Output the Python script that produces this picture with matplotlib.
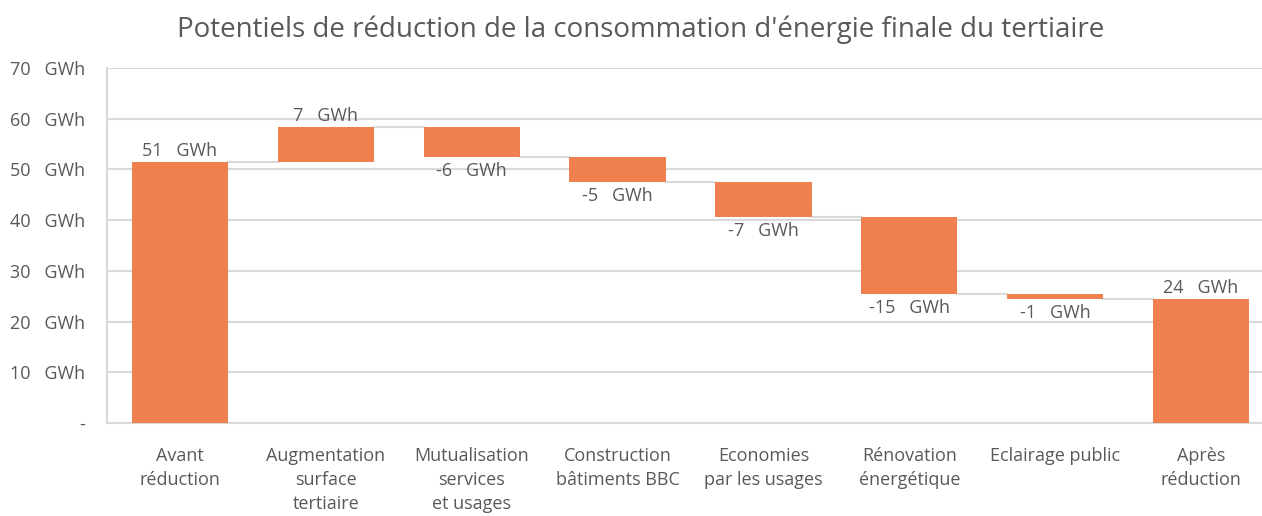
import matplotlib.pyplot as plt
import numpy as np

plt.rcParams['font.family'] = ['Open Sans', 'DejaVu Sans']

categories = ["Avant\nréduction", "Augmentation\nsurface\ntertiaire",
              "Mutualisation\nservices\net usages", "Construction\nbâtiments BBC",
              "Economies\npar les usages", "Rénovation\nénergétique",
              "Eclairage public", "Après\nréduction"]
start_value = 51.4
deltas = [6.9, -5.9, -4.9, -6.9, -15.2, -1.0]
y_ticks = [0, 10, 20, 30, 40, 50, 60, 70]

orange = "#EF8151"
grey_txt = "#595959"
grid_col = "#D9D9D9"

# cumulative levels for the waterfall
levels = [start_value]
for d in deltas:
    levels.append(levels[-1] + d)
end_value = levels[-1]

bottoms = [0] + [min(levels[i], levels[i + 1]) for i in range(len(deltas))] + [0]
heights = [start_value] + [abs(d) for d in deltas] + [end_value]
values = [start_value] + deltas + [end_value]
tops = [b + h for b, h in zip(bottoms, heights)]

fig = plt.figure(figsize=(12.62, 5.16), dpi=100)
ax = fig.add_axes([107 / 1262, (516 - 423) / 516, (1274 - 107) / 1262, (423 - 68) / 516])

x = np.arange(len(categories))
width = 0.66
ax.bar(x, heights, bottom=bottoms, width=width, color=orange, zorder=3)

# connectors between bars
conn = [start_value] + levels[1:]
for i in range(len(categories) - 1):
    ax.plot([x[i] + width / 2, x[i + 1] - width / 2], [conn[i], conn[i]],
            color=grid_col, lw=1.5, zorder=2)

# data labels
for i, v in enumerate(values):
    txt = f"{v:.0f}   GWh"
    if v >= 0:
        ax.text(x[i], tops[i] + 0.5, txt, ha="center", va="bottom",
                fontsize=13, color=grey_txt)
    else:
        ax.text(x[i], bottoms[i] - 0.9, txt, ha="center", va="top",
                fontsize=13, color=grey_txt)

ax.set_xlim(-0.5, len(categories) - 0.5)
ax.set_ylim(0, 70)
ax.set_yticks(y_ticks)
ax.set_yticklabels(["-" if t == 0 else f"{t}   GWh" for t in y_ticks])
ax.set_xticks(x)
ax.set_xticklabels(categories, linespacing=1.45)
ax.tick_params(axis="both", length=0, labelsize=13, colors=grey_txt)
ax.tick_params(axis="x", pad=17)
ax.tick_params(axis="y", pad=16)

ax.yaxis.grid(True, color=grid_col, lw=1.5, zorder=0)
ax.set_axisbelow(True)
for s in ["top", "right"]:
    ax.spines[s].set_visible(False)
ax.spines["left"].set_color(grid_col)
ax.spines["left"].set_linewidth(1.5)
ax.spines["bottom"].set_color(grid_col)
ax.spines["bottom"].set_linewidth(1.5)

fig.text(0.508, 0.942, "Potentiels de réduction de la consommation d'énergie finale du tertiaire",
         ha="center", va="center", fontsize=20, color=grey_txt)

fig.savefig("out.png", dpi=100)
